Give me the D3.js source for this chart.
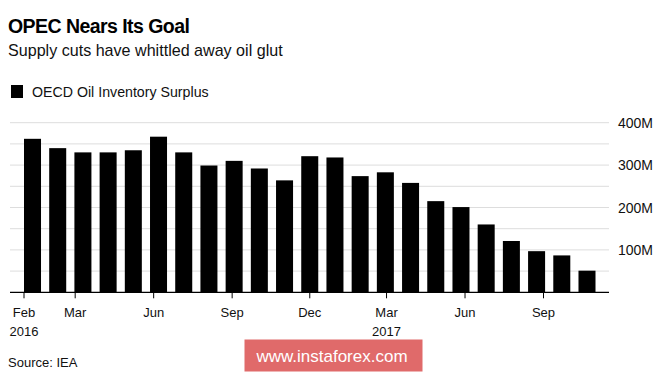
<!DOCTYPE html>
<style>
body { margin: 0; background: #fff; font-family: 'Liberation Sans', Arial, sans-serif; }
.axis .domain { display: none; }
</style>
<svg width="665" height="373"></svg>
<script src="https://d3js.org/d3.v7.min.js"></script>
<script>
// monthly bars, Feb 2016 .. Dec 2017
var months = ["2016-02","2016-03","2016-04","2016-05","2016-06","2016-07","2016-08","2016-09","2016-10","2016-11","2016-12",
              "2017-01","2017-02","2017-03","2017-04","2017-05","2017-06","2017-07","2017-08","2017-09","2017-10","2017-11","2017-12"];
var surplus = [362, 340, 330, 330, 335, 367, 330, 299, 310, 292, 264,
               321, 318, 274, 283, 258, 215, 201, 160, 121, 97, 87, 51];
var yTicks = [100, 200, 300, 400];
var tickDates = ["2016-01-01","2016-03-01","2016-06-01","2016-09-01","2016-12-01","2017-03-01","2017-06-01","2017-09-01"];
var tickLabels = [["Feb","2016"],["Mar"],["Jun"],["Sep"],["Dec"],["Mar","2017"],["Jun"],["Sep"]];

var svg = d3.select("svg");
var plotLeft = 10, plotRight = 609, plotTop = 122.7, plotBottom = 292.3;

var xb = d3.scaleBand().domain(months).range([24, 595.5]).paddingInner(0.325).paddingOuter(0);
var parse = d3.timeParse("%Y-%m-%d");
var xt = d3.scaleTime().domain([parse("2016-01-01"), parse("2017-09-01")]).range([23.5, 543]);
var y = d3.scaleLinear().domain([0, 400]).range([plotBottom, plotTop]);

// title
svg.append("text").attr("x", 8).attr("y", 32.5).attr("font-size", 19.5).attr("font-weight", "bold")
  .attr("letter-spacing", -0.55).text("OPEC Nears Its Goal");
svg.append("text").attr("x", 8).attr("y", 56).attr("font-size", 16.1).attr("fill", "#111")
  .text("Supply cuts have whittled away oil glut");

// legend
svg.append("rect").attr("x", 11).attr("y", 85).attr("width", 12).attr("height", 13).attr("fill", "#000");
svg.append("text").attr("x", 32).attr("y", 97).attr("font-size", 14.2).attr("fill", "#111")
  .text("OECD Oil Inventory Surplus");

// gridlines every 50M
svg.append("g").selectAll("line")
  .data(d3.range(50, 401, 50))
  .enter().append("line")
    .attr("x1", plotLeft).attr("x2", plotRight)
    .attr("y1", function(d) { return y(d); }).attr("y2", function(d) { return y(d); })
    .attr("stroke", "#ddd").attr("stroke-width", 1);

// bars
svg.append("g").selectAll("rect")
  .data(surplus)
  .enter().append("rect")
    .attr("x", function(d, i) { return xb(months[i]); })
    .attr("width", xb.bandwidth())
    .attr("y", function(d) { return y(d); })
    .attr("height", function(d) { return y(0) - y(d); })
    .attr("fill", "#000");

// y labels on the right
svg.append("g").selectAll("text")
  .data(yTicks)
  .enter().append("text")
    .attr("x", 618).attr("y", function(d) { return y(d); })
    .attr("dy", "0.36em").attr("font-size", 14).attr("fill", "#111")
    .text(function(d) { return d + "M"; });

// x axis
svg.append("line").attr("x1", plotLeft).attr("x2", plotRight).attr("y1", plotBottom).attr("y2", plotBottom)
  .attr("stroke", "#000").attr("stroke-width", 1.3);

var xAxis = svg.append("g")
    .attr("class", "axis")
    .attr("transform", "translate(0," + plotBottom + ")")
    .call(d3.axisBottom(xt).tickValues(tickDates.map(parse)).tickSize(6).tickSizeOuter(0).tickFormat(""));
xAxis.selectAll(".tick line").attr("stroke", "#000");
xAxis.selectAll(".tick").each(function(d, i) {
  var t = d3.select(this).append("text")
    .attr("fill", "#111").attr("font-size", 13).attr("text-anchor", "middle")
    .attr("font-family", "'Liberation Sans', Arial, sans-serif");
  tickLabels[i].forEach(function(s, j) {
    t.append("tspan").attr("x", 0).attr("y", 25 + j * 19).text(s);
  });
});

// source
svg.append("text").attr("x", 8).attr("y", 367).attr("font-size", 13).attr("fill", "#111").text("Source: IEA");

// watermark
svg.append("rect").attr("x", 244.5).attr("y", 339.5).attr("width", 178).attr("height", 32).attr("fill", "#e06a6a");
svg.append("text").attr("x", 332).attr("y", 362).attr("text-anchor", "middle").attr("font-size", 17)
  .attr("fill", "#fff").text("www.instaforex.com");
</script>
